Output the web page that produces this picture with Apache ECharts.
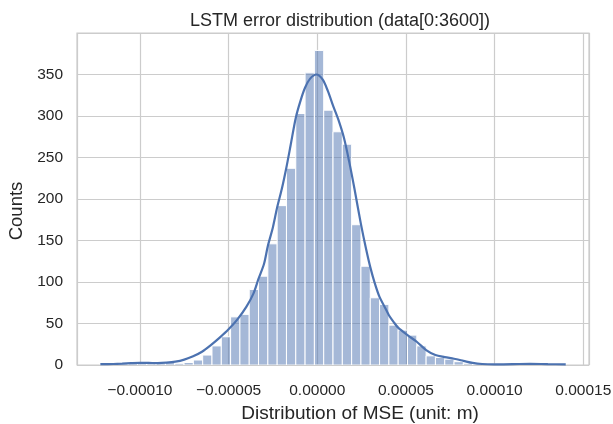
<!DOCTYPE html>
<html><head><meta charset="utf-8">
<script src="https://cdn.jsdelivr.net/npm/echarts@6/dist/echarts.min.js"></script>
<style>html,body{margin:0;padding:0;background:#fff}#c{width:613px;height:424px}</style>
</head><body><div id="c"></div>
<script>
// Histogram bins (50 bins spanning the data range)
const binStart = -0.00012234;
const binWidth = 0.000005249;
const counts = [1,1,2,2,3,2,2,3,2,3,6,12,23,34,58,61,91,107,146,192,237,303,352,379,307,281,266,169,119,81,73,48,42,36,23,11,9,7,4,2,1,1,1,0,1,1,1,1,0,1];
// KDE curve (x in units of 1e-5, y in counts)
const kdeX = [-12.23,-11.5,-11,-10.5,-10,-9.5,-9,-8.5,-8,-7.5,-7,-6.5,-6,-5.5,-5,-4.5,-4,-3.6,-3.31,-3,-2.79,-2.5,-2.26,-2,-1.74,-1.5,-1.21,-0.95,-0.69,-0.4,-0.05,0.3,0.6,0.9,1.2,1.5,1.8,2.1,2.46,2.75,3,3.25,3.51,3.8,4.04,4.3,4.56,5.09,5.61,6.14,6.66,7.19,7.71,8.24,8.76,9.3,10,11,12,13,14.01];
const kdeY = [1,1.2,1.6,2.2,2.6,2.5,2.3,2.8,4,6.5,10.5,16,24,33,43,55,70,86,104,122,143,166,190,212,238,265,298,318,334,345,350,344,330,312,295,274,245,212,170,140,117,98,82,70,60,52,45,36,28,18,12,9.5,7.5,5,2.5,1.2,0.8,1,1.4,1,0.8];
const xTicksStep = 0.00005;
const yTicksStep = 50;
const titleText = 'LSTM error distribution (data[0:3600])';
const xName = 'Distribution of MSE (unit: m)';
const yName = 'Counts';

const histData = counts.map((c, i) => [binStart + i * binWidth, binStart + (i + 1) * binWidth, c]);
const kdeData = kdeX.map((x, i) => [x * 1e-5, kdeY[i]]);

const txt = '#262626';
const font = 'Liberation Sans, Arial, sans-serif';
const chart = echarts.init(document.getElementById('c'), null, {renderer: 'canvas'});
chart.setOption({
  animation: false,
  backgroundColor: '#ffffff',
  title: {
    text: titleText, left: 335, top: 7, textAlign: 'center',
    textStyle: {fontFamily: font, fontSize: 18, fontWeight: 'normal', color: txt}
  },
  grid: {left: 77, right: 24, top: 33, bottom: 59, show: true, borderColor: '#cccccc', borderWidth: 1.2, containLabel: false, outerBoundsMode: 'none'},
  xAxis: {
    type: 'value', min: -0.00013546, max: 0.00015321,
    minInterval: xTicksStep, maxInterval: xTicksStep,
    axisLine: {show: false}, axisTick: {show: false},
    splitLine: {show: true, lineStyle: {color: '#cccccc', width: 1.2}},
    axisLabel: {
      showMinLabel: false, showMaxLabel: false, margin: 18,
      fontFamily: font, fontSize: 15.5, color: txt,
      formatter: v => v.toFixed(5).replace('-', '\u2212')
    },
    name: xName, nameLocation: 'middle', nameGap: 37,
    nameTextStyle: {fontFamily: font, fontSize: 19, color: txt, padding: [0, 0, 0, 54]}
  },
  yAxis: {
    type: 'value', min: 0, max: 400, interval: yTicksStep,
    axisLine: {show: false}, axisTick: {show: false},
    splitLine: {show: true, lineStyle: {color: '#cccccc', width: 1.2}},
    axisLabel: {showMaxLabel: false, margin: 14, fontFamily: font, fontSize: 15.5, color: txt},
    name: yName, nameLocation: 'middle', nameGap: 45, nameRotate: 90,
    nameTextStyle: {fontFamily: font, fontSize: 18.5, color: txt, padding: [0, 24, 0, 0]}
  },
  series: [
    {
      type: 'custom', data: histData, encode: {x: [0, 1], y: 2}, clip: true, z: 2,
      renderItem: (params, api) => {
        const p0 = api.coord([api.value(0), 0]);
        const p1 = api.coord([api.value(1), api.value(2)]);
        return {type: 'rect', shape: {x: p0[0], y: p1[1], width: p1[0] - p0[0], height: p0[1] - p1[1]},
          style: {fill: 'rgba(76,114,176,0.5)', stroke: '#ffffff', lineWidth: 1}};
      }
    },
    {
      type: 'line', data: kdeData, showSymbol: false, smooth: 0.3, z: 3,
      lineStyle: {color: '#4C72B0', width: 2.2}
    }
  ]
});
</script></body></html>
